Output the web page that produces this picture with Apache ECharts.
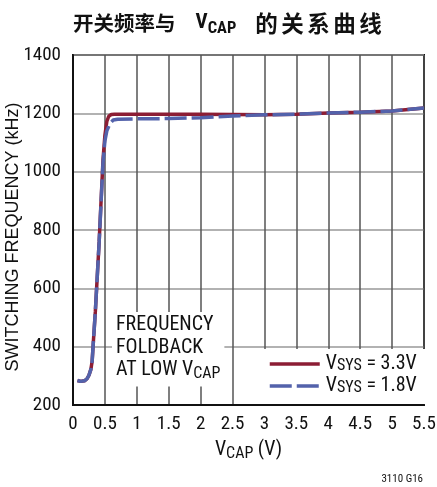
<!DOCTYPE html>
<html>
<head>
<meta charset="utf-8">
<script src="https://cdn.jsdelivr.net/npm/echarts@6/dist/echarts.min.js"></script>
<style>html,body{margin:0;padding:0;background:#fff;}#c{width:437px;height:487px;}</style>
</head>
<body>
<div id="c"></div>
<script>
// Data
var vcap33 = [0.07,0.12,0.18,0.22,0.25,0.28,0.30,0.32,0.35,0.38,0.41,0.44,0.47,0.50,0.53,0.56,0.60,0.65,0.80,1.0,1.5,2.0,2.5,3.0,3.5,4.0,4.5,5.0,5.5];
var freq33 = [284,281,283,290,302,322,350,420,520,640,760,900,1040,1125,1172,1190,1196,1197,1197,1197,1197,1197,1196,1195,1197,1201,1204,1208,1218];
var vcap18 = [0.07,0.12,0.18,0.22,0.25,0.28,0.30,0.32,0.35,0.38,0.41,0.44,0.47,0.50,0.53,0.57,0.60,0.63,0.70,1.0,1.5,2.0,2.5,3.0,3.5,4.0,4.5,5.0,5.5];
var freq18 = [284,281,283,290,302,322,350,420,520,640,760,895,1030,1105,1140,1160,1170,1177,1180,1181,1182,1185,1191,1195,1197,1201,1204,1208,1218];
var seriesNames = ['VSYS = 3.3V', 'VSYS = 1.8V'];
var legendLabels = {'VSYS = 3.3V': '{v|V}{s|SYS}{w| = 3.3V}', 'VSYS = 1.8V': '{v|V}{s|SYS}{w| = 1.8V}'};
var xTicks = {min: 0, max: 5.5, interval: 0.5};
var yTicks = {min: 200, max: 1400, interval: 200};

function zip(a, b) { return a.map(function (v, i) { return [v, b[i]]; }); }

var COND = '"Roboto Condensed", "DejaVu Sans Condensed", sans-serif';
var chart = echarts.init(document.getElementById('c'), null, {renderer: 'canvas'});
chart.setOption({
  animation: false,
  backgroundColor: '#fff',
  title: {
    text: '{c|开关频率与}{v|V}{s|CAP}{d0|的}{d|关}{d|系}{d|曲}{d|线}',
    left: 73, top: 9, padding: 0,
    textStyle: {
      rich: {
        c: {fontFamily: '"Noto Sans CJK SC"', fontWeight: 'bold', fontSize: 20.5, lineHeight: 28, color: '#111'},
        d0: {fontFamily: '"Noto Sans CJK SC"', fontWeight: 'bold', fontSize: 22.5, lineHeight: 28, color: '#111', padding: [0,3.5,0,19]},
        d: {fontFamily: '"Noto Sans CJK SC"', fontWeight: 'bold', fontSize: 22.5, lineHeight: 28, color: '#111', padding: [0,3.5,0,0]},
        v: {fontFamily: COND, fontWeight: 'bold', fontSize: 21, lineHeight: 28, color: '#111', padding: [0,0,0,20]},
        s: {fontFamily: COND, fontWeight: 'bold', fontSize: 16.5, lineHeight: 19, color: '#111', verticalAlign: 'bottom'}
      }
    }
  },
  grid: {left: 73, right: 13, top: 55, bottom: 82, outerBoundsMode: 'none', containLabel: false,
         show: true, borderColor: '#111', borderWidth: 2, backgroundColor: 'transparent'},
  legend: {
    data: seriesNames,
    orient: 'vertical',
    left: 244, top: 349,
    backgroundColor: '#fff',
    padding: [5, 9, 8, 24],
    itemWidth: 50, itemHeight: 14, itemGap: 2,
    itemStyle: {opacity: 0},
    lineStyle: {width: 3.5},
    formatter: function (n) { return legendLabels[n]; },
    textStyle: {
      rich: {
        v: {fontFamily: COND, fontSize: 20, lineHeight: 20, color: '#111', padding: [0,0,0,1]},
        w: {fontFamily: COND, fontSize: 20, lineHeight: 20, color: '#111'},
        s: {fontFamily: COND, fontSize: 16, lineHeight: 10, color: '#111', verticalAlign: 'bottom'}
      }
    }
  },
  xAxis: {
    type: 'value', min: xTicks.min, max: xTicks.max, interval: xTicks.interval,
    name: '{v|V}{s|CAP}{v| (V)}', nameLocation: 'middle', nameGap: 33,
    nameTextStyle: {
      rich: {
        v: {fontFamily: COND, fontSize: 20, lineHeight: 24, color: '#111'},
        s: {fontFamily: COND, fontSize: 16, lineHeight: 15, color: '#111', verticalAlign: 'bottom'}
      }
    },
    axisLine: {show: true, lineStyle: {color: '#111', width: 2}},
    axisTick: {show: false},
    axisLabel: {fontFamily: COND, fontSize: 19, color: '#111', margin: 10},
    splitLine: {show: true, lineStyle: {color: '#555', width: 1.5}}
  },
  yAxis: {
    type: 'value', min: yTicks.min, max: yTicks.max, interval: yTicks.interval,
    name: 'SWITCHING FREQUENCY (kHz)', nameLocation: 'middle', nameGap: 51, nameMoveOverlap: false,
    nameTextStyle: {fontFamily: '"Liberation Sans", Arial, sans-serif', fontSize: 18, color: '#111', padding: [0, 14, 0, 0]},
    axisLine: {show: true, lineStyle: {color: '#111', width: 2}},
    axisTick: {show: false},
    axisLabel: {fontFamily: COND, fontSize: 19, color: '#111', margin: 12, formatter: function (v) { return String(v); }},
    splitLine: {show: true, lineStyle: {color: '#999', width: 1.5}}
  },
  graphic: [
    {
      type: 'text', left: 112, top: 312, z: 5,
      style: {
        text: '{a|FREQUENCY}\n{a|FOLDBACK}\n{a|AT LOW V}{s|CAP}',
        backgroundColor: '#fff',
        padding: [2, 4, 5, 4],
        rich: {
          a: {fontFamily: COND, fontSize: 20, lineHeight: 22.5, fill: '#111', color: '#111'},
          s: {fontFamily: COND, fontSize: 16, lineHeight: 13, fill: '#111', color: '#111', verticalAlign: 'bottom'}
        }
      }
    },
    {
      type: 'text', right: 14, top: 474,
      style: {text: '3110 G16', font: '11px ' + COND, fill: '#111'}
    }
  ],
  series: [
    {
      name: seriesNames[0], type: 'line', data: zip(vcap33, freq33), showSymbol: false, symbol: 'none',
      lineStyle: {color: '#8C1D34', width: 3.5}, itemStyle: {color: '#8C1D34'}, z: 3
    },
    {
      name: seriesNames[1], type: 'line', data: zip(vcap18, freq18), showSymbol: false, symbol: 'none',
      lineStyle: {color: '#5362AB', width: 3.5, type: [22, 5]}, itemStyle: {color: '#5362AB'}, z: 4
    }
  ]
});
</script>
</body>
</html>
